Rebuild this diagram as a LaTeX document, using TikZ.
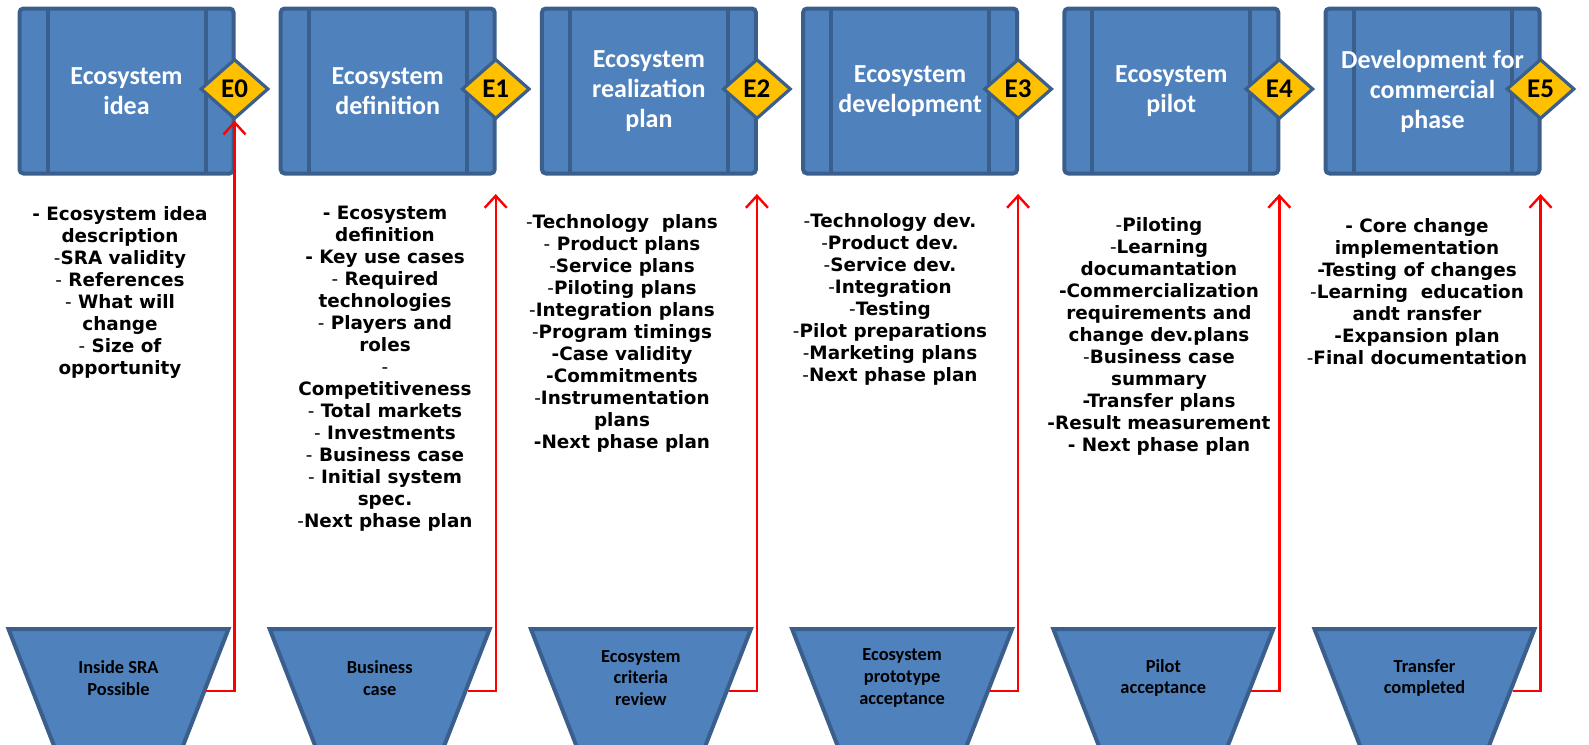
\documentclass[tikz,border=0pt]{standalone}
\usepackage{fontspec}
\setmainfont{DejaVu Sans}
\newfontfamily\calfont{Carlito}
\usetikzlibrary{shapes.geometric, arrows.meta}

\definecolor{boxblue}{HTML}{4F81BD}
\definecolor{edgeblue}{HTML}{3A5F8C}
\definecolor{gateyellow}{HTML}{FFC000}

\newcommand{\dsh}{\textmd{-}}

\tikzset{
  phase/.style={draw=edgeblue, fill=boxblue, line width=2pt, rounded corners=2pt,
    minimum width=107pt, minimum height=82.5pt, text=white, align=center,
    font=\calfont\bfseries\fontsize{13}{15}\selectfont,
    path picture={\draw[edgeblue, line width=2pt]
      ([xshift=14pt]path picture bounding box.north west) -- ([xshift=14pt]path picture bounding box.south west)
      ([xshift=-14pt]path picture bounding box.north east) -- ([xshift=-14pt]path picture bounding box.south east);}},
  gate/.style={diamond, draw=edgeblue, fill=gateyellow, line width=1.6pt,
    minimum width=34pt, minimum height=30pt, inner sep=0pt,
    font=\calfont\bfseries\fontsize{13.5}{15}\selectfont},
  review/.style={trapezium, trapezium left angle=111.4, trapezium right angle=111.4,
    trapezium stretches=true, draw=edgeblue, fill=boxblue, line width=2pt,
    minimum width=110pt, minimum height=62pt},
  reviewtext/.style={align=center, font=\calfont\bfseries\fontsize{9.2}{10.8}\selectfont},
  tasks/.style={align=center, font=\bfseries\fontsize{9.2}{11}\selectfont},
  feed/.style={draw=red, line width=1.2pt, -{Straight Barb[length=6pt,width=11pt]}}
}

\begin{document}
\begin{tikzpicture}[x=0.5pt, y=-0.5pt]
  \useasboundingbox (0,0) rectangle (1589,744);
  \clip (0,0) rectangle (1589,744); % bottom of the review boxes is cut off
  % phases, gates and reviews, one column each
  \foreach \i/\ttl/\crit in {
      0/{Ecosystem\\idea}/{Inside SRA\\Possible},
      1/{Ecosystem\\definition}/{Business\\case},
      2/{Ecosystem\\realization\\plan}/{Ecosystem\\criteria\\review},
      3/{Ecosystem\\development}/{Ecosystem\\prototype\\acceptance},
      4/{Ecosystem\\pilot}/{Pilot\\acceptance},
      5/{Development for\\commercial\\phase}/{Transfer\\completed}}{
    \pgfmathsetmacro\bx{126.5+261.2*\i}
    \node[phase] (phase\i) at (\bx,91) {\ttl};
    \node[gate] (gate\i) at (\bx+108,89) {E\i};
    \node[review] (review\i) at (\bx-8,691) {};
    \node[reviewtext] (revlbl\i) at (\bx-8,678) {\crit};
  }
  % arrow ends below the gates
  \foreach \i in {1,...,5}
    \coordinate (tip\i) at (gate\i.center |- 0,194);
  \draw[feed] (review0.east) -| (gate0.south);
  \foreach \i in {1,...,5}
    \draw[feed] (review\i.east) -| (tip\i);
  % task lists
  \node[tasks] (tasks0) at (120,292) {- Ecosystem idea\\description\\\dsh SRA validity\\\dsh{} References\\\dsh{} What will\\change\\\dsh{} Size of\\opportunity};
  \node[tasks] (tasks1) at (385,369) {- Ecosystem\\definition\\- Key use cases\\\dsh{} Required\\technologies\\\dsh{} Players and\\roles\\\dsh\\Competitiveness\\\dsh{} Total markets\\\dsh{} Investments\\\dsh{} Business case\\\dsh{} Initial system\\spec.\\\dsh Next phase plan};
  \node[tasks] (tasks2) at (622,333) {\dsh Technology\ \ plans\\\dsh{} Product plans\\\dsh Service plans\\\dsh Piloting plans\\\dsh Integration plans\\\dsh Program timings\\-Case validity\\-Commitments\\\dsh Instrumentation\\plans\\-Next phase plan};
  \node[tasks] (tasks3) at (890,299) {\dsh Technology dev.\\\dsh Product dev.\\\dsh Service dev.\\\dsh Integration\\\dsh Testing\\\dsh Pilot preparations\\\dsh Marketing plans\\\dsh Next phase plan};
  \node[tasks] (tasks4) at (1159,336) {\dsh Piloting\\\dsh Learning\\documantation\\-Commercialization\\requirements and\\change dev.plans\\\dsh Business case\\summary\\-Transfer plans\\-Result measurement\\- Next phase plan};
  \node[tasks] (tasks5) at (1417,292) {- Core change\\implementation\\-Testing of changes\\\dsh Learning\ \ education\\andt ransfer\\-Expansion plan\\\dsh Final documentation};
\end{tikzpicture}
\end{document}
